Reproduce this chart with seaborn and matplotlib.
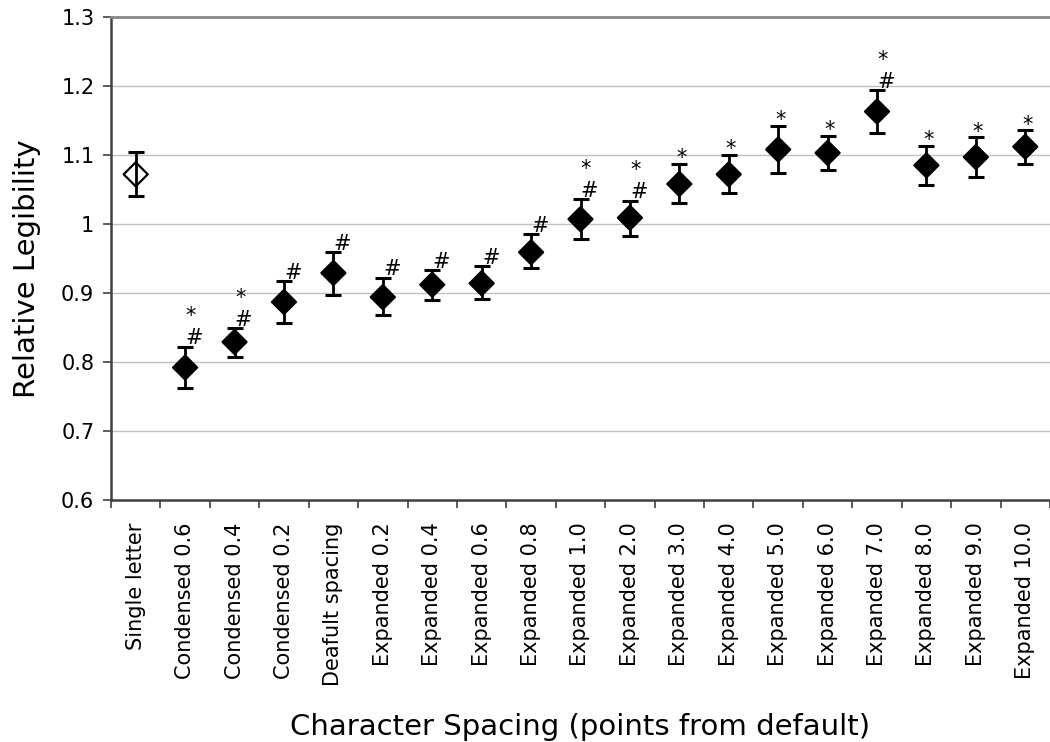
import numpy as np
import pandas as pd
import matplotlib
matplotlib.use("Agg")
import matplotlib.pyplot as plt
import seaborn as sns

# ---- data ----
conditions = ["Single letter", "Condensed 0.6", "Condensed 0.4", "Condensed 0.2",
              "Deafult spacing", "Expanded 0.2", "Expanded 0.4", "Expanded 0.6",
              "Expanded 0.8", "Expanded 1.0", "Expanded 2.0", "Expanded 3.0",
              "Expanded 4.0", "Expanded 5.0", "Expanded 6.0", "Expanded 7.0",
              "Expanded 8.0", "Expanded 9.0", "Expanded 10.0"]
legibility = [1.072, 0.792, 0.829, 0.887, 0.929, 0.894, 0.912, 0.914, 0.959, 1.007,
              1.009, 1.058, 1.072, 1.108, 1.103, 1.163, 1.085, 1.097, 1.112]
err_upper = [1.104, 0.822, 0.849, 0.917, 0.959, 0.922, 0.933, 0.939, 0.985, 1.036,
             1.034, 1.087, 1.100, 1.142, 1.128, 1.194, 1.113, 1.126, 1.136]
err_lower = [1.041, 0.762, 0.807, 0.856, 0.897, 0.868, 0.890, 0.891, 0.936, 0.978,
             0.983, 1.030, 1.045, 1.074, 1.078, 1.132, 1.056, 1.068, 1.087]
marker_kind = ["open"] + ["filled"] * 18
hash_flag = [0, 1, 1, 1, 1, 1, 1, 1, 1, 1, 1, 0, 0, 0, 0, 1, 0, 0, 0]
star_flag = [0, 1, 1, 0, 0, 0, 0, 0, 0, 1, 1, 1, 1, 1, 1, 1, 1, 1, 1]
y_ticks = [0.6, 0.7, 0.8, 0.9, 1.0, 1.1, 1.2, 1.3]
y_tick_labels = ["0.6", "0.7", "0.8", "0.9", "1", "1.1", "1.2", "1.3"]

df = pd.DataFrame({"condition": conditions, "legibility": legibility,
                   "upper": err_upper, "lower": err_lower, "kind": marker_kind})
df["pos"] = np.arange(len(df))

sns.set_theme(style="white")
plt.rcParams["font.family"] = ["DejaVu Sans"]
plt.rcParams["text.color"] = "black"
plt.rcParams["axes.labelcolor"] = "black"
plt.rcParams["xtick.color"] = "black"
plt.rcParams["ytick.color"] = "black"

W, H = 1050, 742
fig = plt.figure(figsize=(W / 100, H / 100), dpi=100)
ax_l, ax_r, ax_t, ax_b = 111, 1050, 17, 500
ax = fig.add_axes([ax_l / W, (H - ax_b) / H, (ax_r - ax_l) / W, (ax_b - ax_t) / H])

# grid lines
for yv in y_ticks[1:-1]:
    ax.axhline(yv, color="#c0c0c0", lw=1.0, zorder=0)

sns.scatterplot(data=df, x="pos", y="legibility", hue="kind",
                palette={"open": "white", "filled": "black"},
                marker="D", s=150, edgecolor="black", linewidth=1.6,
                legend=False, ax=ax, zorder=3)

yerr = np.vstack([df["legibility"] - df["lower"], df["upper"] - df["legibility"]])
ax.errorbar(df["pos"], df["legibility"], yerr=yerr, fmt="none", ecolor="black",
            elinewidth=2.0, capsize=6, capthick=2.2, zorder=4)

# significance annotations
for i, row in df.iterrows():
    if hash_flag[i]:
        ax.annotate("#", (row["pos"], row["upper"]), xytext=(6.5, 6),
                    textcoords="offset points", ha="center", va="center",
                    fontsize=15, color="black", zorder=5)
    if star_flag[i]:
        dy = 22 if hash_flag[i] else 4
        dx = 4 if hash_flag[i] else 1.5
        ax.annotate("*", (row["pos"], row["upper"]), xytext=(dx, dy),
                    textcoords="offset points", ha="center", va="center",
                    fontsize=15, color="black", zorder=5)

n = len(df)
ax.set_xlim(-0.5, n - 0.5)
ax.set_ylim(0.6, 1.3)
ax.set_yticks(y_ticks)
ax.set_yticklabels(y_tick_labels, fontsize=15)
ax.set_xticks(np.arange(n))
ax.set_xticklabels(conditions, rotation=90, fontsize=15)
ax.set_xticks(np.arange(n + 1) - 0.5, minor=True)
ax.tick_params(axis="x", which="major", length=0, pad=16)
ax.tick_params(axis="x", which="minor", length=6, width=1.2, color="#404040",
               direction="out", bottom=True)
ax.tick_params(axis="y", which="major", length=6, width=1.2, color="#404040",
               direction="out", left=True, pad=6)

for side in ["left", "bottom"]:
    ax.spines[side].set_color("#404040")
    ax.spines[side].set_linewidth(1.8)
ax.spines["top"].set_color("#888888")
ax.spines["top"].set_linewidth(2.0)
ax.spines["right"].set_visible(False)

ax.set_xlabel("Character Spacing (points from default)", fontsize=21, va="center")
ax.set_ylabel("Relative Legibility", fontsize=21, va="center")
ax.xaxis.set_label_coords(0.5, (ax_b - 727) / (ax_b - ax_t))
ax.yaxis.set_label_coords((27 - ax_l) / (ax_r - ax_l), (ax_b - 269) / (ax_b - ax_t))

fig.savefig("out.png", dpi=100)
